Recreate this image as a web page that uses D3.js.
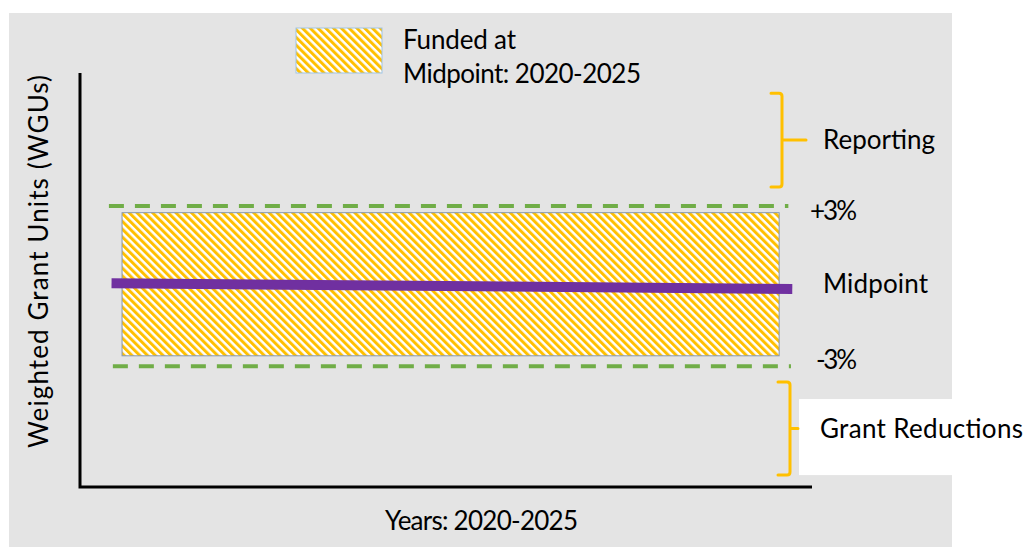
<!DOCTYPE html>
<html><head><meta charset="utf-8">
<script src="https://cdn.jsdelivr.net/npm/d3@7"></script>
<style>html,body{margin:0;padding:0;background:#fff;}svg{display:block;}text{font-family:Lato,"Liberation Sans",sans-serif;fill:#000;}</style>
</head><body>
<script>
// ---- data ----
const years = [2020, 2025];
const fundedBand = [97.35, 102.75];          // hatched band (WGU index, midpoint = 100)
const midpointLine = [{x: 2019.92, y: 100.09}, {x: 2025.1, y: 99.87}];
const thresholds = [{label: "+3%", value: 103.0, x0: 2019.9, x1: 2025.07}, {label: "-3%", value: 96.96, x0: 2019.93, x1: 2025.09}];
const brackets = [{label: "Reporting", from: 103.72, to: 107.26}, {label: "Grant Reductions", from: 92.85, to: 96.36}];
const legendLabel = ["Funded at", "Midpoint: 2020-2025"];
const xTitle = "Years: 2020-2025";
const yTitle = "Weighted Grant Units (WGUs)";

const W = 1028, H = 547, FS = 26;
const svg = d3.select("body").append("svg").attr("width", W).attr("height", H);

const x = d3.scaleLinear().domain([2019.68, 2025.25]).range([80, 812]);
const y = d3.scaleLinear().domain([92.4, 108.02]).range([487, 73]);

function label(txt, px, py, len, transform) {
  const t = svg.append("text").attr("font-size", FS).text(txt)
    .attr("textLength", len).attr("lengthAdjust", "spacing");
  if (transform) t.attr("transform", transform); else t.attr("x", px).attr("y", py);
  return t;
}

// pattern
const defs = svg.append("defs");
const pat = defs.append("pattern").attr("id", "hatch").attr("patternUnits", "userSpaceOnUse")
  .attr("width", 5.5).attr("height", 10).attr("patternTransform", "rotate(-45)");
pat.append("rect").attr("width", 5.5).attr("height", 10).attr("fill", "#fff");
pat.append("rect").attr("width", 3).attr("height", 10).attr("fill", "#ffc000");

// backgrounds
svg.append("rect").attr("x", 9).attr("y", 13).attr("width", 943).attr("height", H - 13).attr("fill", "#e4e4e4");

// legend
svg.append("rect").attr("x", 296).attr("y", 28).attr("width", 86).attr("height", 45)
  .attr("fill", "url(#hatch)").attr("stroke", "#9dc3e6").attr("stroke-width", 1);
label(legendLabel[0], 403, 49, 113);
label(legendLabel[1], 403, 83, 238);

// funded band
svg.append("rect")
  .attr("x", x(years[0])).attr("y", y(fundedBand[1]))
  .attr("width", x(years[1]) - x(years[0])).attr("height", y(fundedBand[0]) - y(fundedBand[1]))
  .attr("fill", "url(#hatch)").attr("stroke", "#8497b0").attr("stroke-width", 1);

// threshold dashed lines
svg.selectAll(".thr").data(thresholds).join("line")
  .attr("x1", d => x(d.x0)).attr("x2", d => x(d.x1))
  .attr("y1", d => y(d.value)).attr("y2", d => y(d.value))
  .attr("stroke", "#70ad47").attr("stroke-width", 4).attr("stroke-dasharray", "15,11");

// midpoint line
svg.append("path").datum(midpointLine)
  .attr("d", d3.line().x(d => x(d.x)).y(d => y(d.y)))
  .attr("stroke", "#7030a0").attr("stroke-width", 10).attr("fill", "none");

// axes (plain lines)
svg.append("path")
  .attr("d", `M${x.range()[0]},${y.range()[1]}V${y.range()[0]}H${x.range()[1]}`)
  .attr("stroke", "#000").attr("stroke-width", 3).attr("fill", "none");

// white box behind "Grant Reductions"
svg.append("rect").attr("x", 799).attr("y", y(brackets[1].to) + 17).attr("width", W - 799)
  .attr("height", y(brackets[1].from) - y(brackets[1].to) - 17).attr("fill", "#fff");

// brackets
const bx = [{hook: 771, spine: 782, tip: 806}, {hook: 778, spine: 790, tip: 798}];
brackets.forEach((b, i) => {
  const t = y(b.to), bt = y(b.from), m = (t + bt) / 2, g = bx[i];
  svg.append("path")
    .attr("d", `M${g.hook},${t}H${g.spine - 3}Q${g.spine},${t} ${g.spine},${t + 3}V${bt - 3}Q${g.spine},${bt} ${g.spine - 3},${bt}H${g.hook}M${g.spine},${m}H${g.tip}`)
    .attr("stroke", "#ffc000").attr("stroke-width", 3).attr("fill", "none").attr("stroke-linecap", "round");
});

// labels
label(brackets[0].label, 823, (y(brackets[0].to) + y(brackets[0].from)) / 2 + 9, 112);
label(brackets[1].label, 820, (y(brackets[1].to) + y(brackets[1].from)) / 2 + 9, 203);
label(thresholds[0].label, 810, y(thresholds[0].value) + 14, 47);
label(thresholds[1].label, 816, y(thresholds[1].value) + 3, 41);
label("Midpoint", 823, y(100) + 7, 105);

// axis titles
label(xTitle, 385, 530, 193);
label(yTitle, 0, 0, 373, "translate(48,448) rotate(-90)");
</script>
</body></html>
